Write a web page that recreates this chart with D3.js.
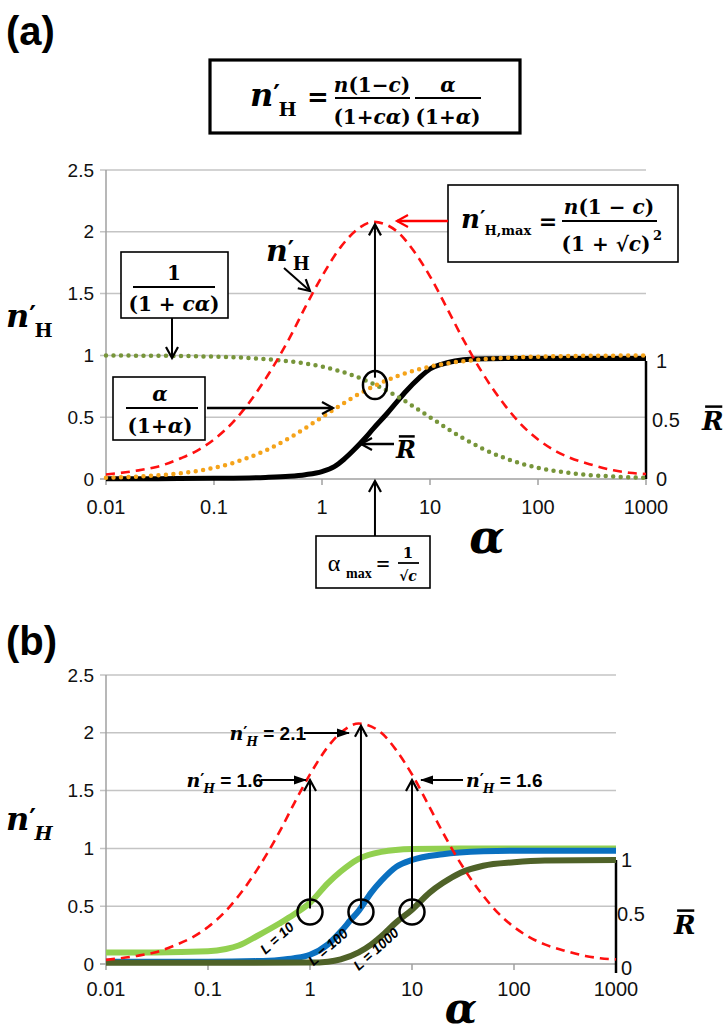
<!DOCTYPE html>
<html><head><meta charset="utf-8">
<script src="https://cdn.jsdelivr.net/npm/d3@7"></script>
<style>body{margin:0;background:#fff}svg{display:block}</style>
</head><body>
<svg id="c" width="726" height="1035"></svg>
<script>
// ---------- data ----------
const xTicks = [0.01, 0.1, 1, 10, 100, 1000];
const xTickLabels = ["0.01", "0.1", "1", "10", "100", "1000"];
const yTicks = [0, 0.5, 1, 1.5, 2, 2.5];
const yTickLabels = ["0", "0.5", "1", "1.5", "2", "2.5"];
const rTicks = [0, 0.5, 1];
const rTickLabels = ["0", "0.5", "1"];

// panel (a)
const alphaA = [0.01,0.02,0.03,0.05,0.07,0.1,0.15,0.2,0.3,0.5,0.7,1,1.5,2,3,5,7,10,15,20,30,50,70,100,150,200,300,500,700,1000];
const nH_a   = [0.036,0.07,0.10,0.17,0.23,0.32,0.46,0.59,0.81,1.14,1.39,1.64,1.88,2.00,2.08,2.00,1.85,1.64,1.35,1.14,0.87,0.59,0.44,0.32,0.22,0.17,0.12,0.07,0.05,0.04];
const inv_a  = [1.0,0.998,0.997,0.995,0.993,0.99,0.985,0.98,0.97,0.952,0.935,0.909,0.87,0.833,0.769,0.667,0.588,0.5,0.4,0.333,0.25,0.167,0.125,0.091,0.063,0.048,0.032,0.02,0.014,0.01];
const frac_a = [0.01,0.02,0.029,0.048,0.065,0.091,0.13,0.167,0.231,0.333,0.412,0.5,0.6,0.667,0.75,0.833,0.875,0.909,0.938,0.952,0.968,0.98,0.986,0.99,0.993,0.995,0.997,0.998,0.999,0.999];
const alphaR_a = [0.01,0.03,0.1,0.3,0.5,0.7,1,1.3,1.6,2,2.5,3,4,5,6,8,10,13,17,25,50,1000];
const Rbar_a   = [0.002,0.003,0.006,0.013,0.022,0.035,0.06,0.1,0.16,0.24,0.33,0.41,0.53,0.63,0.71,0.82,0.89,0.93,0.955,0.97,0.975,0.975];

// panel (b)
const alphaB = [0.01,0.02,0.03,0.05,0.07,0.1,0.15,0.2,0.3,0.5,0.7,1,1.5,2,3,5,7,10,15,20,30,50,70,100,150,200,300,500,700,1000];
const nH_b   = [0.036,0.07,0.10,0.17,0.23,0.32,0.46,0.59,0.81,1.14,1.39,1.64,1.88,2.00,2.08,2.00,1.85,1.64,1.35,1.14,0.87,0.59,0.44,0.32,0.22,0.17,0.12,0.07,0.05,0.04];
const alphaL10 = [0.01,0.03,0.1,0.15,0.2,0.3,0.5,0.7,1,1.5,2,3,5,10,30,1000];
const R_L10    = [0.10,0.10,0.11,0.13,0.16,0.24,0.35,0.43,0.53,0.70,0.80,0.91,0.97,0.995,1.0,1.0];
const alphaL100 = [0.01,0.1,0.3,0.5,0.7,1,1.5,2,2.5,3,4,5,7,10,20,50,100,1000];
const R_L100    = [0.02,0.02,0.025,0.035,0.05,0.08,0.17,0.28,0.38,0.46,0.62,0.72,0.84,0.90,0.95,0.975,0.98,0.98];
const alphaL1000 = [0.01,0.1,1,1.5,2,3,4,5,7,10,15,20,30,50,100,200,1000];
const R_L1000    = [0.01,0.01,0.012,0.02,0.04,0.10,0.17,0.24,0.36,0.47,0.62,0.70,0.79,0.85,0.88,0.895,0.90];

// ---------- drawing ----------
const svg = d3.select("#c");
const defs = svg.append("defs");
function mk(id, color, filled) {
  const m = defs.append("marker").attr("id", id).attr("markerUnits", "userSpaceOnUse")
    .attr("markerWidth", 16).attr("markerHeight", 16).attr("refX", 12).attr("refY", 6)
    .attr("orient", "auto").attr("viewBox", "0 0 16 12").attr("overflow","visible");
  if (filled) m.append("path").attr("d", "M0,1.5 L13,6 L0,10.5 Z").attr("fill", color);
  else m.append("path").attr("d", "M1,0 L12,6 L1,12").attr("fill", "none").attr("stroke", color).attr("stroke-width", 2.2);
}
mk("chev", "#000", false);
mk("chevR", "#f00", false);
mk("tri", "#000", true);

const SERIF = "'DejaVu Serif', serif";
const SANS = "'Liberation Sans', Arial, sans-serif";

function arrow(x1, y1, x2, y2, m, color, w) {
  svg.append("line").attr("x1", x1).attr("y1", y1).attr("x2", x2).attr("y2", y2)
    .attr("stroke", color || "#000").attr("stroke-width", w || 2).attr("marker-end", "url(#" + m + ")");
}

function panel(x0, x1, y0, y1, rTop, rBot, rLineTop, rLineBot, rLabelX, xlabY) {
  const x = d3.scaleLog().domain([0.01, 1000]).range([x0, x1]);
  const y = d3.scaleLinear().domain([0, 2.5]).range([y0, y1]);
  const yR = d3.scaleLinear().domain([0, 1]).range([rBot, rTop]);
  const g = svg.append("g");
  yTicks.forEach((t, i) => {
    g.append("line").attr("x1", x0 - 6).attr("x2", x1).attr("y1", y(t)).attr("y2", y(t))
      .attr("stroke", i === 0 ? "#a0a0a0" : "#c4c4c4").attr("stroke-width", 1.5);
    g.append("text").attr("x", x0 - 12).attr("y", y(t)).attr("dy", "0.35em")
      .attr("text-anchor", "end").attr("font-family", SANS).attr("font-size", 19).attr("fill", "#111")
      .text(yTickLabels[i]);
  });
  g.append("line").attr("x1", x0).attr("x2", x0).attr("y1", y0).attr("y2", y1).attr("stroke", "#a0a0a0").attr("stroke-width", 1.5);
  xTicks.forEach((t, i) => {
    g.append("line").attr("x1", x(t)).attr("x2", x(t)).attr("y1", y0).attr("y2", y0 + 6).attr("stroke", "#a0a0a0").attr("stroke-width", 1.5);
    g.append("text").attr("x", x(t)).attr("y", xlabY).attr("text-anchor", "middle")
      .attr("font-family", SANS).attr("font-size", 20).attr("fill", "#111").text(xTickLabels[i]);
  });
  g.append("line").attr("x1", x1).attr("x2", x1).attr("y1", rLineTop).attr("y2", rLineBot).attr("stroke", "#000").attr("stroke-width", 2.5);
  rTicks.forEach((t, i) => {
    g.append("text").attr("x", rLabelX + (t === 0.5 ? -2 : 2)).attr("y", yR(t)).attr("dy", "0.35em")
      .attr("font-family", SANS).attr("font-size", 20).attr("fill", "#111").text(rTickLabels[i]);
  });
  return { x, y, yR };
}
function curve(P, xs, ys, color, w, dash, cap) {
  const line = d3.line().x(d => P.x(d[0])).y(d => P.y(d[1])).curve(d3.curveMonotoneX);
  svg.append("path").datum(xs.map((a, i) => [a, ys[i]])).attr("d", line)
    .attr("fill", "none").attr("stroke", color).attr("stroke-width", w)
    .attr("stroke-dasharray", dash || null).attr("stroke-linecap", cap || "butt");
}
function nH(parent, x, y, size, italicH, anchor) {
  const t = parent.append("text").attr("x", x).attr("y", y).attr("font-family", SERIF)
    .attr("font-weight", "bold").attr("font-size", size).attr("text-anchor", anchor || "start");
  t.append("tspan").attr("font-style", "italic").text("n");
  t.append("tspan").attr("dy", -size * 0.1).attr("font-size", size * 0.8).text("′");
  t.append("tspan").attr("dx", -size * 0.05).attr("dy", size * 0.4).attr("font-size", size * 0.6)
    .attr("font-style", italicH ? "italic" : "normal").text("H");
  return t;
}
function Rbar(x, y, size) {
  svg.append("text").attr("x", x).attr("y", y).attr("font-family", SERIF).attr("font-weight", "bold")
    .attr("font-style", "italic").attr("font-size", size).text("R");
  svg.append("line").attr("x1", x + size * 0.12).attr("x2", x + size * 0.78).attr("y1", y - size * 0.9).attr("y2", y - size * 0.9)
    .attr("stroke", "#000").attr("stroke-width", 2.5);
}
function txt(x, y, s, size, opts) {
  opts = opts || {};
  return svg.append("text").attr("x", x).attr("y", y).attr("font-family", opts.family || SERIF)
    .attr("font-weight", opts.weight || "bold").attr("font-style", opts.style || "normal")
    .attr("font-size", size).attr("text-anchor", opts.anchor || "middle").text(s);
}
function box(x, y, w, h, sw) {
  svg.append("rect").attr("x", x).attr("y", y).attr("width", w).attr("height", h)
    .attr("fill", "#fff").attr("stroke", "#000").attr("stroke-width", sw || 1.6);
}
function bar(x1, x2, y) {
  svg.append("line").attr("x1", x1).attr("x2", x2).attr("y1", y).attr("y2", y).attr("stroke", "#000").attr("stroke-width", 1.8);
}
function mathStr(x, y, parts, size, anchor) {
  const t = svg.append("text").attr("x", x).attr("y", y).attr("font-family", SERIF).attr("font-weight", "bold")
    .attr("font-size", size).attr("text-anchor", anchor || "middle");
  parts.forEach(p => { const s = t.append("tspan").text(p[0]); if (p[1]) s.attr("font-style", "italic"); });
  return t;
}

// ===== Panel (a) =====
svg.append("text").attr("x", 6).attr("y", 45).attr("font-family", SANS).attr("font-weight", "bold").attr("font-size", 40).text("(a)");
box(210, 60, 310, 73, 3.2);
nH(svg, 250, 106, 32, false);
txt(318, 106, "=", 26, { family: "'DejaVu Sans', sans-serif" });
mathStr(372, 92, [["n", 1], ["(1−"], ["c", 1], [")"]], 20);
bar(335, 410, 98);
mathStr(372, 124, [["(1+"], ["cα", 1], [")"]], 20);
mathStr(448, 92, [["α", 1]], 20);
bar(415, 481, 98);
mathStr(448, 124, [["(1+"], ["α", 1], [")"]], 20);

const A = panel(106, 646, 479, 170, 361, 479, 361, 479, 654, 514);
curve(A, alphaR_a, Rbar_a, "#000", 5);
curve(A, alphaA, inv_a, "#77953a", 4.5, "0 7.5", "round");
curve(A, alphaA, frac_a, "#f5a31a", 4.5, "0 7.5", "round");
curve(A, alphaA, nH_a, "#ff1010", 2.6, "9 6");

const aMax = 3.16;
svg.append("ellipse").attr("cx", A.x(aMax) - 1).attr("cy", A.y(0.76)).attr("rx", 12).attr("ry", 14)
  .attr("fill", "none").attr("stroke", "#000").attr("stroke-width", 2.5);
arrow(A.x(aMax) - 1, A.y(0.82), A.x(aMax) - 1, A.y(2.06), "chev");
box(316, 536, 114, 52, 1.6);
arrow(A.x(aMax) - 1, 536, A.x(aMax) - 1, 481, "chev");
txt(334, 571, "α", 24, { family: "'Liberation Serif', serif", weight: "normal", anchor: "middle" });
txt(346, 578, "max", 14, { family: "'Liberation Serif', serif", anchor: "start" });
txt(383, 572, "=", 24, { family: "'Liberation Serif', serif", weight: "bold" });
mathStr(408, 558, [["1"]], 15);
bar(398, 419, 563);
mathStr(408, 581, [["√"], ["c", 1]], 14);

box(121, 252, 107, 66, 1.6);
mathStr(174, 280, [["1"]], 20);
bar(133, 215, 287);
mathStr(174, 311, [["(1 + "], ["cα", 1], [")"]], 20);
arrow(172, 318, 172, 358, "chev");

box(113, 377, 92, 63, 1.6);
mathStr(160, 401, [["α", 1]], 20);
bar(126, 198, 408);
mathStr(160, 433, [["(1+"], ["α", 1], [")"]], 20);
arrow(207, 408, 333, 408, "chev", "#000", 2.5);

nH(svg, 266, 261, 30, false);
arrow(284, 268, 310, 291, "chev");

box(448, 185, 230, 77, 1.6);
(function () {
  const t = svg.append("text").attr("x", 461).attr("y", 228).attr("font-family", SERIF).attr("font-weight", "bold").attr("font-size", 26);
  t.append("tspan").attr("font-style", "italic").text("n");
  t.append("tspan").attr("dy", -3).attr("font-size", 21).text("′");
  t.append("tspan").attr("dx", -1).attr("dy", 10).attr("font-size", 13).text("H,max");
})();
txt(548, 229, "=", 22, { family: "'DejaVu Sans', sans-serif" });
mathStr(609, 214, [["n", 1], ["(1 − "], ["c", 1], [")"]], 20);
bar(562, 657, 221);
mathStr(606, 251, [["(1 + √"], ["c", 1], [")"]], 20);
txt(653, 240, "2", 13, { anchor: "start" });
arrow(448, 221, 397, 221, "chevR", "#f00", 2.5);

arrow(394, 444, 361, 444, "chev", "#000", 2.5);
Rbar(396, 458, 24);

nH(svg, 6, 327, 32, false);
txt(487, 553, "α", 46, { style: "italic", anchor: "middle" });
Rbar(702, 430, 26);

// ===== Panel (b) =====
svg.append("text").attr("x", 6).attr("y", 655).attr("font-family", SANS).attr("font-weight", "bold").attr("font-size", 40).text("(b)");
const B = panel(106, 616, 964, 675, 860, 968, 860, 973, 619, 996);
curve(B, alphaL10, R_L10, "#92d050", 6);
curve(B, alphaL100, R_L100, "#0a70c0", 6);
curve(B, alphaL1000, R_L1000, "#4f6228", 6);
curve(B, alphaB, nH_b, "#ff1010", 2.6, "9 6");

const circA = [1, 3.16, 10];
const topV = [1.6, 2.07, 1.6];
circA.forEach((a, i) => {
  svg.append("circle").attr("cx", B.x(a)).attr("cy", B.y(0.45)).attr("r", 12.5)
    .attr("fill", "none").attr("stroke", "#000").attr("stroke-width", 2.5);
  arrow(B.x(a), B.y(0.48), B.x(a), B.y(topV[i]) + 1, "chev", "#000", 2);
});
function nHeq(xEnd, y, val, anchor) {
  const t = svg.append("text").attr("x", xEnd).attr("y", y).attr("font-weight", "bold").attr("font-size", 19)
    .attr("text-anchor", anchor).attr("font-family", SANS);
  t.append("tspan").attr("font-family", SERIF).attr("font-style", "italic").text("n");
  t.append("tspan").attr("font-family", SERIF).attr("dy", -2).attr("font-size", 16).text("′");
  t.append("tspan").attr("font-family", SERIF).attr("font-style", "italic").attr("dx", -1).attr("dy", 8).attr("font-size", 12).text("H");
  t.append("tspan").attr("dy", -6).text(" = " + val);
}
nHeq(306, 740, "2.1", "end");
arrow(304, 733, 349, 733, "tri", "#000", 2);
nHeq(263, 787, "1.6", "end");
arrow(261, 780, 306, 780, "tri", "#000", 2);
nHeq(466, 787, "1.6", "start");
arrow(463, 780, 421, 780, "tri", "#000", 2);

[["L = 10", 277, 938], ["L = 100", 328, 947], ["L = 1000", 376, 949]].forEach(d => {
  svg.append("text").attr("transform", `translate(${d[1]},${d[2]}) rotate(-42)`)
    .attr("text-anchor", "middle").attr("dy", "0.35em").attr("font-family", SANS)
    .attr("font-weight", "bold").attr("font-style", "italic").attr("font-size", 14).text(d[0]);
});

nH(svg, 6, 830, 32, true);
txt(461, 1023, "α", 42, { style: "italic", anchor: "middle" });
Rbar(674, 934, 26);
</script>
</body></html>
